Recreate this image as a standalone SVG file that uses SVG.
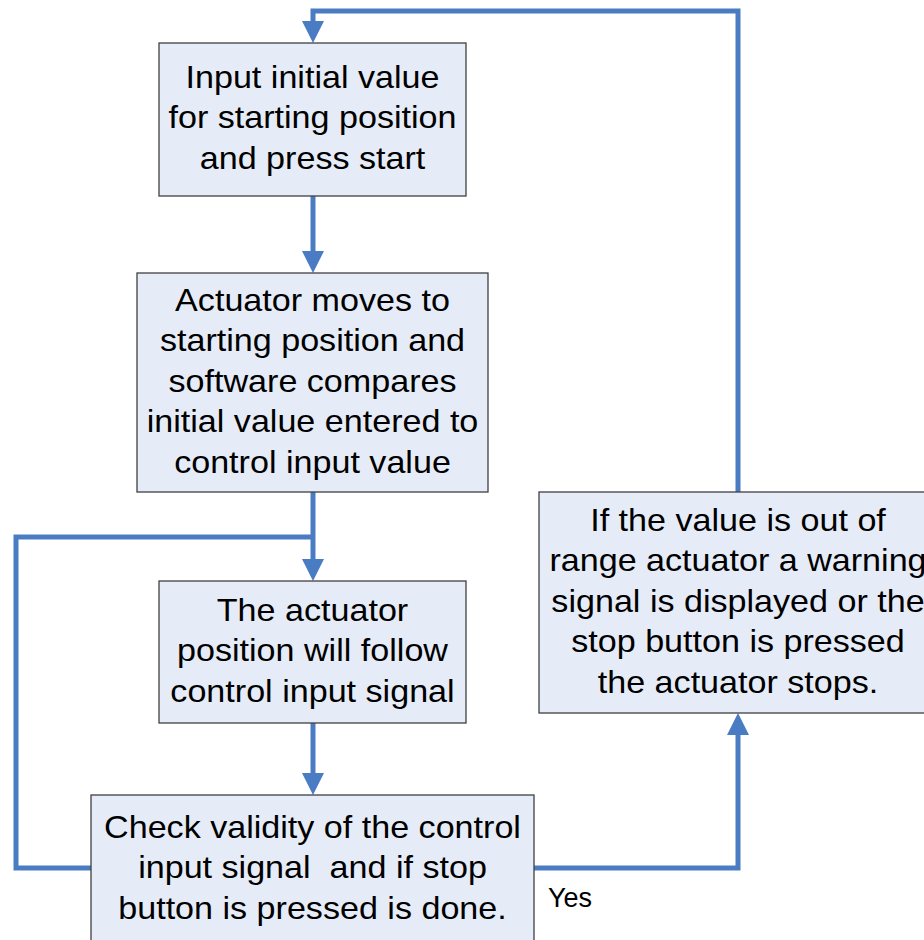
<svg xmlns="http://www.w3.org/2000/svg" width="924" height="940" viewBox="0 0 924 940">
  <style>
    .box { fill: #E6ECF7; stroke: #404040; stroke-width: 1.3; }
    .lbl { font-family: "Liberation Sans", Arial, sans-serif; font-size: 31px; fill: #000; text-anchor: middle; white-space: pre; }
    .note { font-family: "Liberation Sans", Arial, sans-serif; font-size: 27px; fill: #000; }
    .flow { fill: none; stroke: #4A7CC4; stroke-width: 5; stroke-linejoin: miter; }
  </style>
  <defs>
    <marker id="arrow" markerUnits="userSpaceOnUse" markerWidth="24" markerHeight="24" refX="2" refY="11" orient="auto">
      <path d="M0,0 L22,11 L0,22 Z" fill="#4A7CC4"/>
    </marker>
  </defs>

  <g id="connectors">
    <!-- loop back from warning/stop to the start -->
    <path class="flow" d="M738,492 V11 H313 V23" marker-end="url(#arrow)"/>
    <!-- start -> actuator moves -->
    <path class="flow" d="M313,196 V253" marker-end="url(#arrow)"/>
    <!-- actuator moves -> follow control signal -->
    <path class="flow" d="M313,492 V561" marker-end="url(#arrow)"/>
    <!-- repeat loop from validity check -->
    <path class="flow" d="M91,868 H16 V537 H313"/>
    <!-- follow control signal -> validity check -->
    <path class="flow" d="M313,723 V775" marker-end="url(#arrow)"/>
    <!-- validity check -> warning/stop (Yes) -->
    <path class="flow" d="M534,868 H738 V733" marker-end="url(#arrow)"/>
  </g>

  <g id="start">
    <rect class="box" x="159" y="43" width="307" height="153"/>
    <g transform="translate(312.5 0) scale(1.1 1)">
      <text class="lbl" x="0" y="88">Input initial value</text>
      <text class="lbl" x="0" y="128.5">for starting position</text>
      <text class="lbl" x="0" y="169">and press start</text>
    </g>
  </g>

  <g id="move">
    <rect class="box" x="137" y="273" width="351" height="219"/>
    <g transform="translate(312.5 0) scale(1.1 1)">
      <text class="lbl" x="0" y="311">Actuator moves to</text>
      <text class="lbl" x="0" y="351.5">starting position and</text>
      <text class="lbl" x="0" y="392">software compares</text>
      <text class="lbl" x="0" y="432.5">initial value entered to</text>
      <text class="lbl" x="0" y="473">control input value</text>
    </g>
  </g>

  <g id="follow">
    <rect class="box" x="159" y="581" width="307" height="142"/>
    <g transform="translate(312.5 0) scale(1.1 1)">
      <text class="lbl" x="0" y="621">The actuator</text>
      <text class="lbl" x="0" y="661.5">position will follow</text>
      <text class="lbl" x="0" y="702">control input signal</text>
    </g>
  </g>

  <g id="check">
    <rect class="box" x="91" y="795" width="443" height="150"/>
    <g transform="translate(312.5 0) scale(1.1 1)">
      <text class="lbl" x="0" y="838">Check validity of the control</text>
      <text class="lbl" x="0" y="878.5" xml:space="preserve">input signal  and if stop</text>
      <text class="lbl" x="0" y="919">button is pressed is done.</text>
    </g>
  </g>

  <g id="stop">
    <rect class="box" x="539" y="492" width="400" height="221"/>
    <g transform="translate(738 0) scale(1.1 1)">
      <text class="lbl" x="0" y="531">If the value is out of</text>
      <text class="lbl" x="0" y="571.5">range actuator a warning</text>
      <text class="lbl" x="0" y="612">signal is displayed or the</text>
      <text class="lbl" x="0" y="652.5">stop button is pressed</text>
      <text class="lbl" x="0" y="693">the actuator stops.</text>
    </g>
  </g>

  <g id="yes-label">
    <text class="note" x="548" y="907">Yes</text>
  </g>
</svg>
